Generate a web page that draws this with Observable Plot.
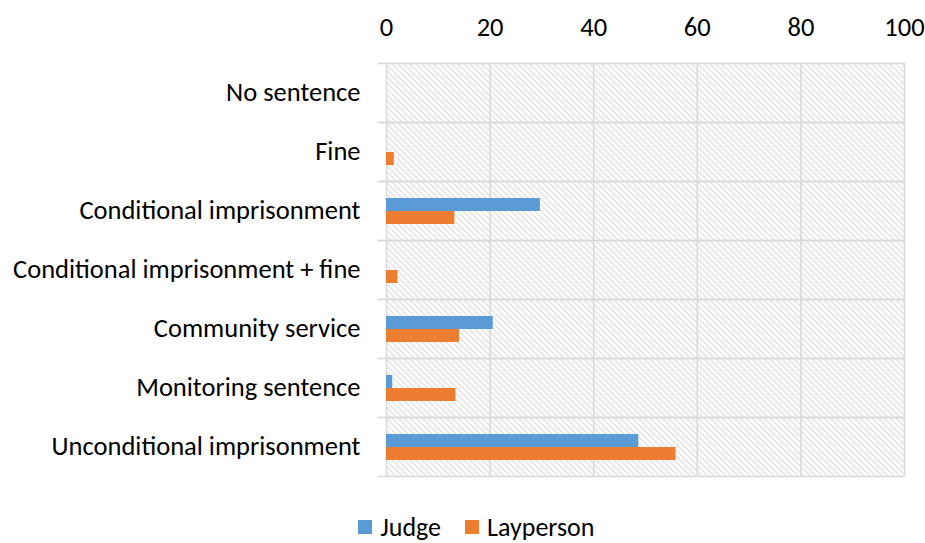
<!DOCTYPE html>
<html><head><meta charset="utf-8">
<script src="https://cdn.jsdelivr.net/npm/d3@7"></script>
<script src="https://cdn.jsdelivr.net/npm/@observablehq/plot@0.6"></script>
<style>
html,body{margin:0;padding:0;background:#fff;overflow:hidden;}
#legend{display:flex;justify-content:center;margin-top:14px;padding-left:28px;height:26px;line-height:26px;}
#legend > div{margin:0 !important;min-height:0 !important;line-height:26px !important;}
#legend span{margin-right:24px !important;line-height:26px !important;}
#legend span:last-child{margin-right:0 !important;}
#legend span svg{margin-right:8px !important;}
</style></head><body><div id="chart"></div><div id="legend"></div><script>
const categories = ["No sentence","Fine","Conditional imprisonment","Conditional imprisonment + fine","Community service","Monitoring sentence","Unconditional imprisonment"];
const series = ["Judge","Layperson"];
const judge = [0,0,29.7,0,20.6,1.2,48.7];
const layperson = [0,1.5,13.2,2.2,14.1,13.4,55.9];
const xTicks = [0,20,40,60,80,100];
const colors = ["#5B9BD5","#ED7D31"];

const rows = categories.flatMap((c,i)=>[
  {category:c, series:series[0], value:judge[i]},
  {category:c, series:series[1], value:layperson[i]}
]);
const FONT = "Carlito, 'Open Sans', sans-serif";
const GRID = "#d9d9d9";

const svg = Plot.plot({
  width: 925, height: 500,
  marginLeft: 386, marginRight: 21, marginTop: 61, marginBottom: 23,
  style: {fontFamily: FONT, fontSize: "26.5px", color: "#000", background: "white"},
  x: {domain: [0,100], ticks: xTicks, axis: "top", tickSize: 0, tickPadding: 28, label: null},
  y: {domain: series, paddingInner: 0, paddingOuter: 1.225, axis: null},
  fy: {domain: categories, padding: 0, label: null, axis: "left", tickSize: 0, tickPadding: 26},
  color: {domain: series, range: colors},
  marks: [
    Plot.frame({fill: "url(#hatch)"}),
    Plot.ruleX(xTicks, {stroke: GRID, strokeWidth: 1.5}),
    Plot.frame({anchor: "top", stroke: GRID, strokeWidth: 1.5, insetLeft: -8}),
    Plot.frame({anchor: "bottom", stroke: GRID, strokeWidth: 1.5, insetLeft: -8}),
    Plot.barX(rows, {fy: "category", y: "series", x: "value", fill: "series"})
  ]
});
const defs = d3.select(svg).insert("defs", ":first-child");
const pat = defs.append("pattern").attr("id","hatch").attr("patternUnits","userSpaceOnUse").attr("width",6).attr("height",6);
pat.append("rect").attr("width",6).attr("height",6).attr("fill","#fff");
pat.append("path").attr("d","M-1,-1L7,7M-4,2L4,10M2,-4L10,4").attr("stroke","#dcdcdc").attr("stroke-width",1.3);
document.getElementById("chart").appendChild(svg);

const leg = Plot.legend({color: {domain: series, range: colors}, swatchSize: 14, style: {fontFamily: FONT, fontSize: "26px", color: "#000"}});
document.getElementById("legend").appendChild(leg);
</script></body></html>
